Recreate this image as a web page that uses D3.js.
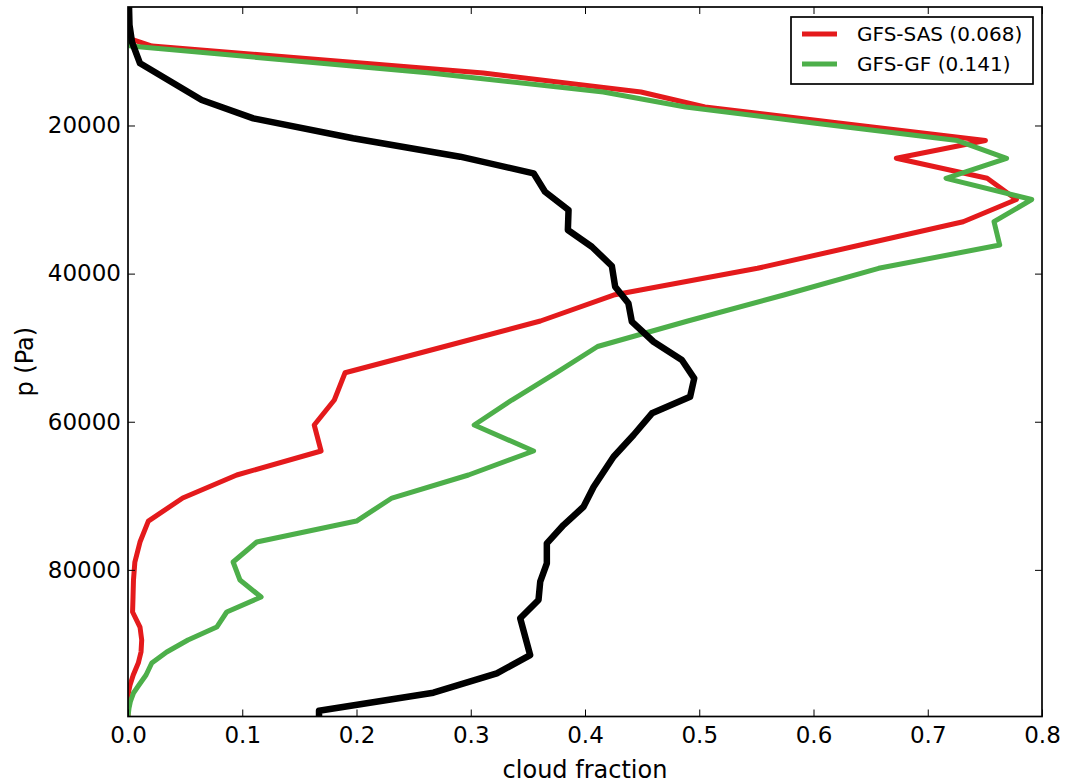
<!DOCTYPE html>
<html>
<head>
<meta charset="utf-8">
<script src="https://cdn.jsdelivr.net/npm/d3@7"></script>
<style>
  html, body { margin: 0; padding: 0; background: #fff; }
  svg { display: block; }
  text { font-family: "DejaVu Sans", sans-serif; fill: #000; }
</style>
</head>
<body>
<svg id="chart" width="1069" height="784"></svg>
<script>
// Observed cloud-fraction profile (pressure in Pa, cloud fraction)
const obsPressure = [4000, 6430, 8730, 11600, 16560, 19030, 21730, 24210, 26460, 28940,
  31410, 34110, 36370, 38970, 41770, 44010, 46490, 49200, 51670, 54140,
  56620, 58860, 61790, 64720, 68810, 71480, 73950, 76420, 79120, 81600,
  84070, 86540, 91500, 93970, 96590, 99020, 99800];
const obsCloud = [0.0009, 0.0013, 0.0035, 0.0105, 0.0645, 0.1097, 0.197, 0.2907, 0.355, 0.365,
  0.3856, 0.385, 0.406, 0.4235, 0.4264, 0.438, 0.441, 0.46, 0.4848, 0.4956,
  0.492, 0.4586, 0.4425, 0.425, 0.4075, 0.3987, 0.3812, 0.3666, 0.3666, 0.3608,
  0.3593, 0.3433, 0.352, 0.3228, 0.2673, 0.1672, 0.1672];

// Model levels shared by both simulations (Pa)
const modelPressure = [4000, 8190, 9270, 12910, 15480, 17500, 19660, 22030, 24430, 27130,
  29990, 32990, 36140, 39280, 42890, 46400, 49840, 53380, 57070, 60440,
  63950, 67190, 70300, 73410, 76240, 78940, 81370, 83670, 85690, 87720,
  89470, 91090, 92580, 94200, 95550, 96630, 97710, 98660, 99800];
const sasCloud = [0, 0, 0.021, 0.311, 0.449, 0.505, 0.622, 0.7505, 0.6725, 0.752,
  0.7776, 0.731, 0.641, 0.551, 0.425, 0.361, 0.277, 0.19, 0.1806, 0.163,
  0.169, 0.0952, 0.0479, 0.0178, 0.0105, 0.006, 0.0048, 0.0044, 0.004, 0.0105,
  0.012, 0.0114, 0.009, 0.0046, 0.0018, 0.0003, 0, 0, 0];
const gfCloud = [0, 0, 0.002, 0.2645, 0.416, 0.488, 0.6, 0.726, 0.769, 0.716,
  0.791, 0.758, 0.763, 0.657, 0.574, 0.49, 0.411, 0.375, 0.336, 0.303,
  0.355, 0.298, 0.231, 0.2, 0.1127, 0.092, 0.098, 0.1165, 0.0864, 0.0777,
  0.0525, 0.0339, 0.0208, 0.0158, 0.0096, 0.0048, 0.0022, 0.0009, 0];

const xTicks = [0, 0.1, 0.2, 0.3, 0.4, 0.5, 0.6, 0.7, 0.8];
const yTicks = [20000, 40000, 60000, 80000];

const series = [
  { name: "GFS-SAS (0.068)", color: "#e41a1c", width: 5, p: modelPressure, v: sasCloud },
  { name: "GFS-GF (0.141)", color: "#4daf4a", width: 5, p: modelPressure, v: gfCloud }
];
const obsSeries = { color: "#000000", width: 6.5, p: obsPressure, v: obsCloud };

const plotLeft = 128, plotRight = 1042, plotTop = 7, plotBottom = 716.5;
const tickFont = 23, labelFont = 24, legendFont = 20;

const svg = d3.select("#chart");
const x = d3.scaleLinear().domain([0, 0.8]).range([plotLeft, plotRight]);
const y = d3.scaleLinear().domain([4000, 99800]).range([plotTop, plotBottom]);

svg.append("defs").append("clipPath").attr("id", "plotClip")
  .append("rect").attr("x", plotLeft).attr("y", plotTop)
  .attr("width", plotRight - plotLeft).attr("height", plotBottom - plotTop);

const line = d3.line().x(d => x(d[1])).y(d => y(d[0]));
const plot = svg.append("g").attr("clip-path", "url(#plotClip)");

function drawProfile(s) {
  plot.append("path")
    .datum(s.p.map((p, i) => [p, s.v[i]]))
    .attr("d", line)
    .attr("fill", "none")
    .attr("stroke", s.color)
    .attr("stroke-width", s.width)
    .attr("stroke-linejoin", "round")
    .attr("stroke-linecap", "square");
}
series.forEach(drawProfile);
drawProfile(obsSeries);

// Axes: inward ticks on all four sides
const tickLen = 7;
const fmtX = d3.format(".1f");
const gx = svg.append("g").attr("transform", `translate(0,${plotBottom})`)
  .call(d3.axisBottom(x).tickValues(xTicks).tickFormat(fmtX)
    .tickSizeInner(-tickLen).tickSizeOuter(0).tickPadding(10));
const gxTop = svg.append("g").attr("transform", `translate(0,${plotTop})`)
  .call(d3.axisTop(x).tickValues(xTicks).tickFormat("")
    .tickSizeInner(-tickLen).tickSizeOuter(0));
const gy = svg.append("g").attr("transform", `translate(${plotLeft},0)`)
  .call(d3.axisLeft(y).tickValues(yTicks).tickFormat(d3.format("d"))
    .tickSizeInner(-tickLen).tickSizeOuter(0).tickPadding(7));
const gyRight = svg.append("g").attr("transform", `translate(${plotRight},0)`)
  .call(d3.axisRight(y).tickValues(yTicks).tickFormat("")
    .tickSizeInner(-tickLen).tickSizeOuter(0));

[gx, gxTop, gy, gyRight].forEach(g => {
  g.select(".domain").remove();
  g.selectAll(".tick line").attr("stroke", "#000").attr("stroke-width", 1);
  g.selectAll(".tick text").attr("font-size", tickFont).attr("font-family", "DejaVu Sans");
});

// Frame
svg.append("rect")
  .attr("x", plotLeft).attr("y", plotTop)
  .attr("width", plotRight - plotLeft).attr("height", plotBottom - plotTop)
  .attr("fill", "none").attr("stroke", "#000").attr("stroke-width", 1.7);

// Axis titles
svg.append("text")
  .attr("x", (plotLeft + plotRight) / 2).attr("y", 778)
  .attr("text-anchor", "middle").attr("font-size", labelFont)
  .text("cloud fraction");
svg.append("text")
  .attr("transform", `translate(33,${(plotTop + plotBottom) / 2}) rotate(-90)`)
  .attr("text-anchor", "middle").attr("font-size", labelFont)
  .text("p (Pa)");

// Legend
const lg = svg.append("g");
lg.append("rect")
  .attr("x", 791).attr("y", 17).attr("width", 242).attr("height", 67)
  .attr("fill", "#fff").attr("stroke", "#000").attr("stroke-width", 1.7);
series.forEach((s, i) => {
  const cy = 34 + i * 30;
  lg.append("line")
    .attr("x1", 802).attr("x2", 837).attr("y1", cy).attr("y2", cy)
    .attr("stroke", s.color).attr("stroke-width", 5);
  lg.append("text")
    .attr("x", 857).attr("y", cy).attr("dy", "0.36em")
    .attr("font-size", legendFont)
    .text(s.name);
});
</script>
</body>
</html>
